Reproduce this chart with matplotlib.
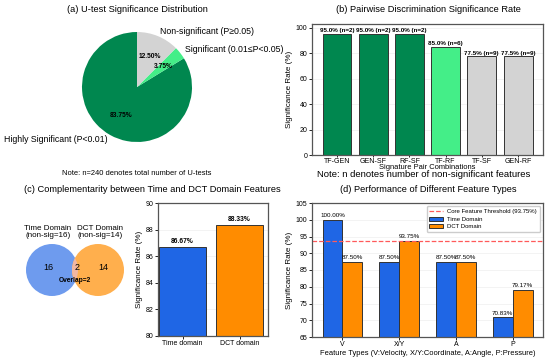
import matplotlib.pyplot as plt
from matplotlib.patches import Circle
import numpy as np

plt.rcParams["font.family"] = ["Liberation Sans", "DejaVu Sans"]

# (a) pie data
pie_labels = ["Highly Significant (P<0.01)", "Significant (0.01≤P<0.05)", "Non-significant (P≥0.05)"]
pie_values = [83.75, 3.75, 12.50]
pie_colors = ["#00874F", "#44EE88", "#D3D3D3"]

# (b) pairwise rates
pairs = ["TF-GEN", "GEN-SF", "RF-SF", "TF-RF", "TF-SF", "GEN-RF"]
pair_rates = [95.0, 95.0, 95.0, 85.0, 77.5, 77.5]
pair_n = [2, 2, 2, 6, 9, 9]
pair_colors = ["#00874F", "#00874F", "#00874F", "#44EE88", "#D3D3D3", "#D3D3D3"]

# (c) venn + domain rates
time_nonsig = 16
dct_nonsig = 14
overlap = 2
domains = ["Time domain", "DCT domain"]
domain_rates = [86.67, 88.33]

# (d) feature types
feat_types = ["V", "X/Y", "A", "P"]
time_rates = [100.00, 87.50, 87.50, 70.83]
dct_rates = [87.50, 93.75, 87.50, 79.17]
threshold = 93.75

blue = "#1F66E5"
orange = "#FF8C00"
edge = "#333333"
title_fs = 6.7

fig = plt.figure(figsize=(5.5, 3.6), dpi=100)

def style_ax(ax):
    for s in ax.spines.values():
        s.set_color("#555555")
        s.set_linewidth(0.9)
    ax.tick_params(labelsize=5, length=2, width=0.6, pad=1.2)
    ax.grid(axis="y", color="#DDDDDD", linewidth=0.4, alpha=0.6)
    ax.set_axisbelow(True)

# ---- (a) pie
ax_a = fig.add_axes([68.25 / 550, 1 - 155.75 / 360, 137.5 / 550, 137.5 / 360])
wedges, texts, autotexts = ax_a.pie(pie_values, labels=pie_labels, colors=pie_colors,
                                    autopct="%.2f%%", startangle=90,
                                    textprops={"fontsize": 6.3})
for t in autotexts:
    t.set_fontsize(4.8)
    t.set_fontweight("bold")
ax_a.set_aspect("equal")
fig.text(137 / 550, 1 - 9 / 360, "(a) U-test Significance Distribution", ha="center", va="center", fontsize=title_fs)
fig.text(137 / 550, 1 - 173 / 360, "Note: n=240 denotes total number of U-tests", ha="center", va="center", fontsize=5.4)

# ---- (b) pairwise bars
ax_b = fig.add_axes([312 / 550, 1 - 155 / 360, 231 / 550, 131 / 360])
x = np.arange(len(pairs))
ax_b.bar(x, pair_rates, width=0.8, color=pair_colors, edgecolor=edge, linewidth=0.7)
for xi, r, n in zip(x, pair_rates, pair_n):
    ax_b.text(xi, r + 0.6, f"{r:.1f}% (n={n})", ha="center", va="bottom", fontsize=4.5, fontweight="bold")
ax_b.set_xticks(x)
ax_b.set_xticklabels(pairs)
ax_b.set_ylim(0, 103)
ax_b.set_yticks([0, 20, 40, 60, 80, 100])
style_ax(ax_b)
ax_b.tick_params(axis="x", length=1.5, pad=0.6)
ax_b.set_ylabel("Significance Rate (%)", fontsize=5.8, labelpad=2)
ax_b.set_xlabel("Signature Pair Combinations", fontsize=5.4, labelpad=-1)
fig.text(428 / 550, 1 - 10 / 360, "(b) Pairwise Discrimination Significance Rate", ha="center", va="center", fontsize=title_fs)
fig.text(424 / 550, 1 - 174.5 / 360, "Note: n denotes number of non-significant features", ha="center", va="center", fontsize=6.8)

# ---- (c) venn
fig.text(152 / 550, 1 - 190 / 360, "(c) Complementarity between Time and DCT Domain Features", ha="center", va="center", fontsize=title_fs)
ax_v = fig.add_axes([0, 1 - 340 / 360, 150 / 550, 140 / 360])
ax_v.set_xlim(0, 150)
ax_v.set_ylim(340, 200)
ax_v.axis("off")
c1 = Circle((52, 270), 26, facecolor="#6E9BEE", edgecolor="none")
c2 = Circle((98, 270), 26, facecolor="#FFAF4D", edgecolor="none")
ax_v.add_patch(c1)
ax_v.add_patch(c2)
lens = Circle((98, 270), 26, facecolor="#F2B7A3", edgecolor="none")
ax_v.add_patch(lens)
lens.set_clip_path(c1)
ax_v.text(48, 268, str(time_nonsig), ha="center", va="center", fontsize=6.5)
ax_v.text(77, 268, str(overlap), ha="center", va="center", fontsize=6.5)
ax_v.text(103, 268, str(dct_nonsig), ha="center", va="center", fontsize=6.5)
ax_v.text(75, 280, f"Overlap={overlap}", ha="center", va="center", fontsize=4.8, fontweight="bold")
ax_v.text(48, 232, f"Time Domain\n(non-sig={time_nonsig})", ha="center", va="center", fontsize=5.8, linespacing=1.0)
ax_v.text(100, 232, f"DCT Domain\n(non-sig={dct_nonsig})", ha="center", va="center", fontsize=5.8, linespacing=1.0)

# ---- (c) domain bars
ax_c = fig.add_axes([158 / 550, 1 - 336 / 360, 110 / 550, 133 / 360])
xd = np.arange(len(domains))
ax_c.bar(xd, domain_rates, width=0.83, color=[blue, orange], edgecolor=edge, linewidth=0.7)
for xi, r in zip(xd, domain_rates):
    ax_c.text(xi, r + 0.15, f"{r:.2f}%", ha="center", va="bottom", fontsize=4.8, fontweight="bold")
ax_c.set_xticks(xd)
ax_c.set_xticklabels(domains)
ax_c.set_xlim(-0.43, 1.5)
ax_c.set_ylim(80, 90)
ax_c.set_yticks([80, 82, 84, 86, 88, 90])
style_ax(ax_c)
ax_c.set_ylabel("Significance Rate (%)", fontsize=5.8, labelpad=2)

# ---- (d) feature types
ax_d = fig.add_axes([312 / 550, 1 - 337 / 360, 231 / 550, 134 / 360])
xf = np.arange(len(feat_types))
w = 0.35
ax_d.axhline(threshold, color="#FF5A5A", linestyle="--", linewidth=0.9,
             label=f"Core Feature Threshold ({threshold:.2f}%)")
ax_d.bar(xf - w / 2, time_rates, width=w, color=blue, edgecolor=edge, linewidth=0.7, label="Time Domain")
ax_d.bar(xf + w / 2, dct_rates, width=w, color=orange, edgecolor=edge, linewidth=0.7, label="DCT Domain")
for xi, r in zip(xf, time_rates):
    ax_d.text(xi - w / 2, r + 0.4, f"{r:.2f}%", ha="center", va="bottom", fontsize=4.5)
for xi, r in zip(xf, dct_rates):
    ax_d.text(xi + w / 2, r + 0.4, f"{r:.2f}%", ha="center", va="bottom", fontsize=4.5)
ax_d.set_xticks(xf)
ax_d.set_xticklabels(feat_types)
ax_d.set_ylim(65, 105)
ax_d.set_yticks(range(65, 106, 5))
style_ax(ax_d)
ax_d.set_ylabel("Significance Rate (%)", fontsize=5.8, labelpad=2)
ax_d.set_xlabel("Feature Types (V:Velocity, X/Y:Coordinate, A:Angle, P:Pressure)", fontsize=5.4, labelpad=1)
ax_d.legend(loc="upper right", fontsize=4.3, frameon=True, framealpha=1, edgecolor="#CCCCCC",
            handlelength=2.2, borderpad=0.5, labelspacing=0.4)
fig.text(428 / 550, 1 - 190 / 360, "(d) Performance of Different Feature Types", ha="center", va="center", fontsize=title_fs)

plt.savefig("out.png", dpi=100)
